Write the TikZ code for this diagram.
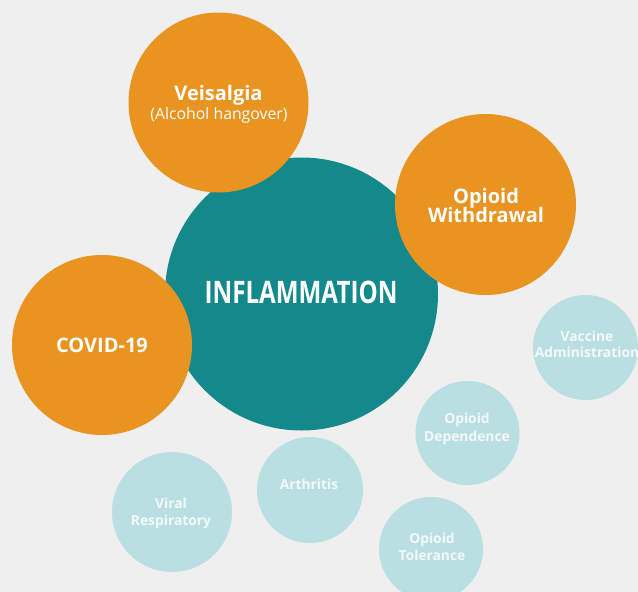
\documentclass[tikz,border=0pt]{standalone}
\usepackage{fontspec}
\setmainfont{Open Sans}
\definecolor{bg}{RGB}{239,239,239}
\definecolor{orangec}{RGB}{233,147,32}
\definecolor{tealc}{RGB}{20,137,140}
\definecolor{lightc}{RGB}{186,223,226}
\definecolor{lighttext}{RGB}{243,249,250}
\begin{document}
\begin{tikzpicture}[x=1pt,y=-1pt,
  disc/.style={circle, inner sep=0pt, minimum size=#1},
  bigdisc/.style={disc=#1, fill=orangec},
  smalldisc/.style={disc=#1, fill=lightc},
  lbl/.style={anchor=base, inner sep=0pt, text=white},
  mainfont/.style={lbl, font=\bfseries\fontsize{20}{24}\selectfont},
  subfont/.style={lbl, font=\fontsize{15.8}{19}\selectfont},
  smallfont/.style={lbl, text=lighttext, font=\bfseries\fontsize{13.8}{17}\selectfont}]
\useasboundingbox (0,0) rectangle (638,592);
\clip (0,0) rectangle (638,592);
\fill[bg] (0,0) rectangle (638,592);

% circles
\node[disc=273pt, fill=tealc] (infl) at (301.5,294) {};
\node[bigdisc=180pt] (veis) at (218.5,102.5) {};
\node[bigdisc=181pt] (opw) at (485.5,204.5) {};
\node[bigdisc=180pt] (covid) at (102,345) {};
\node[smalldisc=105pt] (vacc) at (585.5,347.5) {};
\node[smalldisc=104pt] (dep) at (467.5,433) {};
\node[smalldisc=106pt] (arth) at (310,490) {};
\node[smalldisc=120pt] (viral) at (172,512) {};
\node[smalldisc=104pt] (tol) at (431,549) {};

% labels
\node[lbl, font=\bfseries\fontsize{31}{36}\selectfont] (tinfl) at (301,303) {\scalebox{0.78}[1]{INFLAMMATION}};
\node[mainfont] (tveis1) at (218.5,100) {Veisalgia};
\node[subfont] (tveis2) at (219,119.5) {(Alcohol hangover)};
\node[mainfont] (topw1) at (486,203) {Opioid};
\node[mainfont] (topw2) at (486,222) {Withdrawal};
\node[mainfont] (tcovid) at (102,352) {COVID-19};
\node[smallfont] (tvacc1) at (587,341) {Vaccine};
\node[smallfont] (tvacc2) at (587,357) {Administration};
\node[smallfont] (tdep1) at (467,423) {Opioid};
\node[smallfont] (tdep2) at (467,441) {Dependence};
\node[smallfont] (tarth) at (309,489) {Arthritis};
\node[smallfont] (tviral1) at (171,508) {Viral};
\node[smallfont] (tviral2) at (171,525) {Respiratory};
\node[smallfont] (ttol1) at (432,543) {Opioid};
\node[smallfont] (ttol2) at (432,560) {Tolerance};
\end{tikzpicture}
\end{document}
